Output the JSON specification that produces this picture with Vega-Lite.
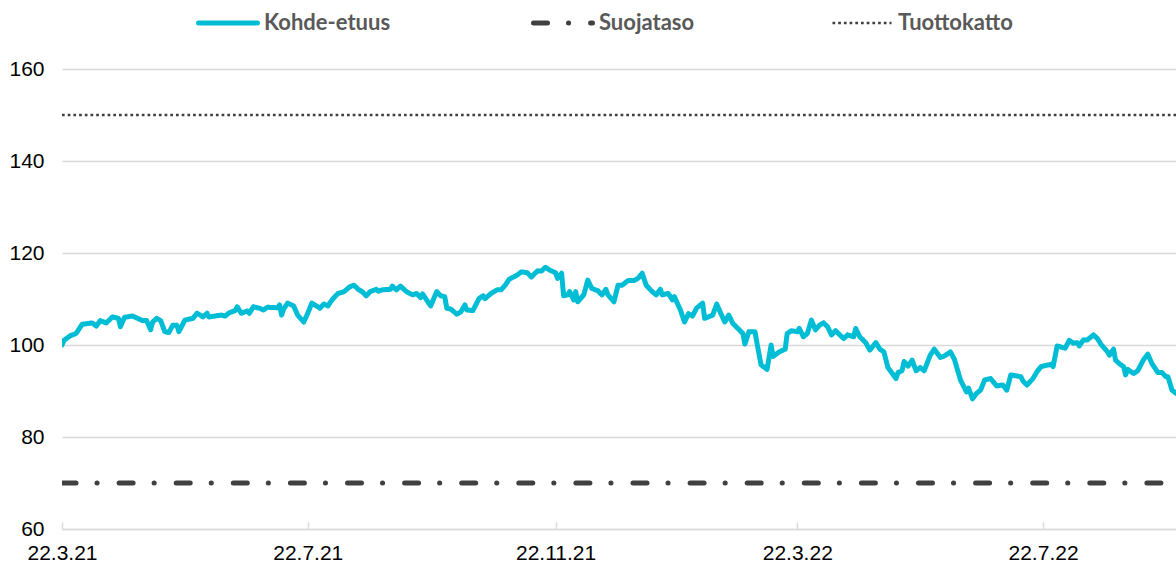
{
  "$schema": "https://vega.github.io/schema/vega-lite/v6.json",
  "width": 1114,
  "height": 460,
  "autosize": {"type": "none"},
  "padding": {"left": 62, "top": 69, "right": 0, "bottom": 34},
  "background": "white",
  "config": {"view": {"stroke": null}, "font": "Liberation Sans"},
  "datasets": {
    "kohde": [
      {"date": "2021-03-22", "value": 100.0, "series": "Kohde-etuus"},
      {"date": "2021-03-23", "value": 101.0, "series": "Kohde-etuus"},
      {"date": "2021-03-26", "value": 102.0, "series": "Kohde-etuus"},
      {"date": "2021-03-29", "value": 102.5, "series": "Kohde-etuus"},
      {"date": "2021-04-01", "value": 104.5, "series": "Kohde-etuus"},
      {"date": "2021-04-06", "value": 104.8, "series": "Kohde-etuus"},
      {"date": "2021-04-08", "value": 104.1, "series": "Kohde-etuus"},
      {"date": "2021-04-10", "value": 105.3, "series": "Kohde-etuus"},
      {"date": "2021-04-13", "value": 104.8, "series": "Kohde-etuus"},
      {"date": "2021-04-16", "value": 106.1, "series": "Kohde-etuus"},
      {"date": "2021-04-19", "value": 105.8, "series": "Kohde-etuus"},
      {"date": "2021-04-20", "value": 104.0, "series": "Kohde-etuus"},
      {"date": "2021-04-22", "value": 106.0, "series": "Kohde-etuus"},
      {"date": "2021-04-26", "value": 106.3, "series": "Kohde-etuus"},
      {"date": "2021-05-01", "value": 105.3, "series": "Kohde-etuus"},
      {"date": "2021-05-03", "value": 105.3, "series": "Kohde-etuus"},
      {"date": "2021-05-05", "value": 103.3, "series": "Kohde-etuus"},
      {"date": "2021-05-06", "value": 105.0, "series": "Kohde-etuus"},
      {"date": "2021-05-08", "value": 105.8, "series": "Kohde-etuus"},
      {"date": "2021-05-10", "value": 105.3, "series": "Kohde-etuus"},
      {"date": "2021-05-12", "value": 102.9, "series": "Kohde-etuus"},
      {"date": "2021-05-14", "value": 102.7, "series": "Kohde-etuus"},
      {"date": "2021-05-16", "value": 104.3, "series": "Kohde-etuus"},
      {"date": "2021-05-18", "value": 104.3, "series": "Kohde-etuus"},
      {"date": "2021-05-19", "value": 102.9, "series": "Kohde-etuus"},
      {"date": "2021-05-22", "value": 105.4, "series": "Kohde-etuus"},
      {"date": "2021-05-26", "value": 105.8, "series": "Kohde-etuus"},
      {"date": "2021-05-28", "value": 106.9, "series": "Kohde-etuus"},
      {"date": "2021-05-31", "value": 106.1, "series": "Kohde-etuus"},
      {"date": "2021-06-02", "value": 106.9, "series": "Kohde-etuus"},
      {"date": "2021-06-03", "value": 106.1, "series": "Kohde-etuus"},
      {"date": "2021-06-09", "value": 106.5, "series": "Kohde-etuus"},
      {"date": "2021-06-11", "value": 106.3, "series": "Kohde-etuus"},
      {"date": "2021-06-13", "value": 107.0, "series": "Kohde-etuus"},
      {"date": "2021-06-16", "value": 107.5, "series": "Kohde-etuus"},
      {"date": "2021-06-17", "value": 108.3, "series": "Kohde-etuus"},
      {"date": "2021-06-19", "value": 106.9, "series": "Kohde-etuus"},
      {"date": "2021-06-22", "value": 107.4, "series": "Kohde-etuus"},
      {"date": "2021-06-23", "value": 106.9, "series": "Kohde-etuus"},
      {"date": "2021-06-25", "value": 108.3, "series": "Kohde-etuus"},
      {"date": "2021-06-28", "value": 108.0, "series": "Kohde-etuus"},
      {"date": "2021-06-30", "value": 107.6, "series": "Kohde-etuus"},
      {"date": "2021-07-02", "value": 108.2, "series": "Kohde-etuus"},
      {"date": "2021-07-07", "value": 108.1, "series": "Kohde-etuus"},
      {"date": "2021-07-08", "value": 108.7, "series": "Kohde-etuus"},
      {"date": "2021-07-09", "value": 106.5, "series": "Kohde-etuus"},
      {"date": "2021-07-10", "value": 107.8, "series": "Kohde-etuus"},
      {"date": "2021-07-12", "value": 109.1, "series": "Kohde-etuus"},
      {"date": "2021-07-15", "value": 108.5, "series": "Kohde-etuus"},
      {"date": "2021-07-17", "value": 106.5, "series": "Kohde-etuus"},
      {"date": "2021-07-20", "value": 105.0, "series": "Kohde-etuus"},
      {"date": "2021-07-22", "value": 106.9, "series": "Kohde-etuus"},
      {"date": "2021-07-24", "value": 109.1, "series": "Kohde-etuus"},
      {"date": "2021-07-27", "value": 108.3, "series": "Kohde-etuus"},
      {"date": "2021-07-28", "value": 108.0, "series": "Kohde-etuus"},
      {"date": "2021-07-30", "value": 108.9, "series": "Kohde-etuus"},
      {"date": "2021-08-01", "value": 108.5, "series": "Kohde-etuus"},
      {"date": "2021-08-03", "value": 109.8, "series": "Kohde-etuus"},
      {"date": "2021-08-06", "value": 111.2, "series": "Kohde-etuus"},
      {"date": "2021-08-09", "value": 111.6, "series": "Kohde-etuus"},
      {"date": "2021-08-12", "value": 112.7, "series": "Kohde-etuus"},
      {"date": "2021-08-14", "value": 113.0, "series": "Kohde-etuus"},
      {"date": "2021-08-16", "value": 112.1, "series": "Kohde-etuus"},
      {"date": "2021-08-18", "value": 111.6, "series": "Kohde-etuus"},
      {"date": "2021-08-20", "value": 110.7, "series": "Kohde-etuus"},
      {"date": "2021-08-22", "value": 111.6, "series": "Kohde-etuus"},
      {"date": "2021-08-25", "value": 112.1, "series": "Kohde-etuus"},
      {"date": "2021-08-26", "value": 111.7, "series": "Kohde-etuus"},
      {"date": "2021-08-28", "value": 112.0, "series": "Kohde-etuus"},
      {"date": "2021-09-01", "value": 112.1, "series": "Kohde-etuus"},
      {"date": "2021-09-02", "value": 112.8, "series": "Kohde-etuus"},
      {"date": "2021-09-04", "value": 112.0, "series": "Kohde-etuus"},
      {"date": "2021-09-06", "value": 112.8, "series": "Kohde-etuus"},
      {"date": "2021-09-09", "value": 111.6, "series": "Kohde-etuus"},
      {"date": "2021-09-12", "value": 110.9, "series": "Kohde-etuus"},
      {"date": "2021-09-14", "value": 111.2, "series": "Kohde-etuus"},
      {"date": "2021-09-16", "value": 110.3, "series": "Kohde-etuus"},
      {"date": "2021-09-17", "value": 111.1, "series": "Kohde-etuus"},
      {"date": "2021-09-19", "value": 109.8, "series": "Kohde-etuus"},
      {"date": "2021-09-21", "value": 108.5, "series": "Kohde-etuus"},
      {"date": "2021-09-24", "value": 111.6, "series": "Kohde-etuus"},
      {"date": "2021-09-26", "value": 110.7, "series": "Kohde-etuus"},
      {"date": "2021-09-28", "value": 110.5, "series": "Kohde-etuus"},
      {"date": "2021-09-29", "value": 108.0, "series": "Kohde-etuus"},
      {"date": "2021-10-01", "value": 107.8, "series": "Kohde-etuus"},
      {"date": "2021-10-04", "value": 106.7, "series": "Kohde-etuus"},
      {"date": "2021-10-06", "value": 107.2, "series": "Kohde-etuus"},
      {"date": "2021-10-08", "value": 108.7, "series": "Kohde-etuus"},
      {"date": "2021-10-09", "value": 107.6, "series": "Kohde-etuus"},
      {"date": "2021-10-12", "value": 107.5, "series": "Kohde-etuus"},
      {"date": "2021-10-15", "value": 110.1, "series": "Kohde-etuus"},
      {"date": "2021-10-17", "value": 110.7, "series": "Kohde-etuus"},
      {"date": "2021-10-18", "value": 110.1, "series": "Kohde-etuus"},
      {"date": "2021-10-21", "value": 111.2, "series": "Kohde-etuus"},
      {"date": "2021-10-24", "value": 112.0, "series": "Kohde-etuus"},
      {"date": "2021-10-26", "value": 112.0, "series": "Kohde-etuus"},
      {"date": "2021-10-28", "value": 113.0, "series": "Kohde-etuus"},
      {"date": "2021-10-30", "value": 114.3, "series": "Kohde-etuus"},
      {"date": "2021-11-03", "value": 115.2, "series": "Kohde-etuus"},
      {"date": "2021-11-05", "value": 115.9, "series": "Kohde-etuus"},
      {"date": "2021-11-08", "value": 115.7, "series": "Kohde-etuus"},
      {"date": "2021-11-10", "value": 114.8, "series": "Kohde-etuus"},
      {"date": "2021-11-13", "value": 116.1, "series": "Kohde-etuus"},
      {"date": "2021-11-15", "value": 116.1, "series": "Kohde-etuus"},
      {"date": "2021-11-17", "value": 116.9, "series": "Kohde-etuus"},
      {"date": "2021-11-19", "value": 116.3, "series": "Kohde-etuus"},
      {"date": "2021-11-22", "value": 115.7, "series": "Kohde-etuus"},
      {"date": "2021-11-23", "value": 114.5, "series": "Kohde-etuus"},
      {"date": "2021-11-25", "value": 115.6, "series": "Kohde-etuus"},
      {"date": "2021-11-26", "value": 110.7, "series": "Kohde-etuus"},
      {"date": "2021-11-28", "value": 110.9, "series": "Kohde-etuus"},
      {"date": "2021-11-29", "value": 111.6, "series": "Kohde-etuus"},
      {"date": "2021-12-01", "value": 109.8, "series": "Kohde-etuus"},
      {"date": "2021-12-02", "value": 111.6, "series": "Kohde-etuus"},
      {"date": "2021-12-03", "value": 109.4, "series": "Kohde-etuus"},
      {"date": "2021-12-06", "value": 110.9, "series": "Kohde-etuus"},
      {"date": "2021-12-08", "value": 114.1, "series": "Kohde-etuus"},
      {"date": "2021-12-10", "value": 112.3, "series": "Kohde-etuus"},
      {"date": "2021-12-13", "value": 111.8, "series": "Kohde-etuus"},
      {"date": "2021-12-15", "value": 110.9, "series": "Kohde-etuus"},
      {"date": "2021-12-17", "value": 112.1, "series": "Kohde-etuus"},
      {"date": "2021-12-18", "value": 110.9, "series": "Kohde-etuus"},
      {"date": "2021-12-21", "value": 109.4, "series": "Kohde-etuus"},
      {"date": "2021-12-23", "value": 113.0, "series": "Kohde-etuus"},
      {"date": "2021-12-25", "value": 113.0, "series": "Kohde-etuus"},
      {"date": "2021-12-28", "value": 114.0, "series": "Kohde-etuus"},
      {"date": "2021-12-31", "value": 114.0, "series": "Kohde-etuus"},
      {"date": "2022-01-02", "value": 114.5, "series": "Kohde-etuus"},
      {"date": "2022-01-04", "value": 115.6, "series": "Kohde-etuus"},
      {"date": "2022-01-06", "value": 113.0, "series": "Kohde-etuus"},
      {"date": "2022-01-09", "value": 111.6, "series": "Kohde-etuus"},
      {"date": "2022-01-11", "value": 110.9, "series": "Kohde-etuus"},
      {"date": "2022-01-13", "value": 112.1, "series": "Kohde-etuus"},
      {"date": "2022-01-14", "value": 110.9, "series": "Kohde-etuus"},
      {"date": "2022-01-17", "value": 111.2, "series": "Kohde-etuus"},
      {"date": "2022-01-19", "value": 109.8, "series": "Kohde-etuus"},
      {"date": "2022-01-20", "value": 110.5, "series": "Kohde-etuus"},
      {"date": "2022-01-23", "value": 107.6, "series": "Kohde-etuus"},
      {"date": "2022-01-25", "value": 105.0, "series": "Kohde-etuus"},
      {"date": "2022-01-27", "value": 106.8, "series": "Kohde-etuus"},
      {"date": "2022-01-29", "value": 106.3, "series": "Kohde-etuus"},
      {"date": "2022-01-31", "value": 108.0, "series": "Kohde-etuus"},
      {"date": "2022-02-03", "value": 109.1, "series": "Kohde-etuus"},
      {"date": "2022-02-04", "value": 105.8, "series": "Kohde-etuus"},
      {"date": "2022-02-08", "value": 106.5, "series": "Kohde-etuus"},
      {"date": "2022-02-10", "value": 108.9, "series": "Kohde-etuus"},
      {"date": "2022-02-12", "value": 106.9, "series": "Kohde-etuus"},
      {"date": "2022-02-14", "value": 105.0, "series": "Kohde-etuus"},
      {"date": "2022-02-16", "value": 106.5, "series": "Kohde-etuus"},
      {"date": "2022-02-18", "value": 104.7, "series": "Kohde-etuus"},
      {"date": "2022-02-23", "value": 102.5, "series": "Kohde-etuus"},
      {"date": "2022-02-24", "value": 100.2, "series": "Kohde-etuus"},
      {"date": "2022-02-26", "value": 102.9, "series": "Kohde-etuus"},
      {"date": "2022-03-01", "value": 102.9, "series": "Kohde-etuus"},
      {"date": "2022-03-02", "value": 100.4, "series": "Kohde-etuus"},
      {"date": "2022-03-04", "value": 95.7, "series": "Kohde-etuus"},
      {"date": "2022-03-07", "value": 94.7, "series": "Kohde-etuus"},
      {"date": "2022-03-09", "value": 100.0, "series": "Kohde-etuus"},
      {"date": "2022-03-10", "value": 97.5, "series": "Kohde-etuus"},
      {"date": "2022-03-13", "value": 98.5, "series": "Kohde-etuus"},
      {"date": "2022-03-16", "value": 99.1, "series": "Kohde-etuus"},
      {"date": "2022-03-17", "value": 102.5, "series": "Kohde-etuus"},
      {"date": "2022-03-19", "value": 103.1, "series": "Kohde-etuus"},
      {"date": "2022-03-22", "value": 102.9, "series": "Kohde-etuus"},
      {"date": "2022-03-23", "value": 103.6, "series": "Kohde-etuus"},
      {"date": "2022-03-25", "value": 101.8, "series": "Kohde-etuus"},
      {"date": "2022-03-27", "value": 102.5, "series": "Kohde-etuus"},
      {"date": "2022-03-29", "value": 105.4, "series": "Kohde-etuus"},
      {"date": "2022-03-31", "value": 103.3, "series": "Kohde-etuus"},
      {"date": "2022-04-02", "value": 104.3, "series": "Kohde-etuus"},
      {"date": "2022-04-04", "value": 104.8, "series": "Kohde-etuus"},
      {"date": "2022-04-06", "value": 104.0, "series": "Kohde-etuus"},
      {"date": "2022-04-08", "value": 102.2, "series": "Kohde-etuus"},
      {"date": "2022-04-10", "value": 103.1, "series": "Kohde-etuus"},
      {"date": "2022-04-14", "value": 101.4, "series": "Kohde-etuus"},
      {"date": "2022-04-16", "value": 102.2, "series": "Kohde-etuus"},
      {"date": "2022-04-19", "value": 101.8, "series": "Kohde-etuus"},
      {"date": "2022-04-20", "value": 103.6, "series": "Kohde-etuus"},
      {"date": "2022-04-22", "value": 101.8, "series": "Kohde-etuus"},
      {"date": "2022-04-25", "value": 100.5, "series": "Kohde-etuus"},
      {"date": "2022-04-27", "value": 98.9, "series": "Kohde-etuus"},
      {"date": "2022-04-30", "value": 100.5, "series": "Kohde-etuus"},
      {"date": "2022-05-02", "value": 99.1, "series": "Kohde-etuus"},
      {"date": "2022-05-04", "value": 98.5, "series": "Kohde-etuus"},
      {"date": "2022-05-06", "value": 95.1, "series": "Kohde-etuus"},
      {"date": "2022-05-10", "value": 92.7, "series": "Kohde-etuus"},
      {"date": "2022-05-11", "value": 94.0, "series": "Kohde-etuus"},
      {"date": "2022-05-13", "value": 94.4, "series": "Kohde-etuus"},
      {"date": "2022-05-14", "value": 96.4, "series": "Kohde-etuus"},
      {"date": "2022-05-16", "value": 95.4, "series": "Kohde-etuus"},
      {"date": "2022-05-18", "value": 96.7, "series": "Kohde-etuus"},
      {"date": "2022-05-20", "value": 94.4, "series": "Kohde-etuus"},
      {"date": "2022-05-22", "value": 95.1, "series": "Kohde-etuus"},
      {"date": "2022-05-24", "value": 94.4, "series": "Kohde-etuus"},
      {"date": "2022-05-27", "value": 97.8, "series": "Kohde-etuus"},
      {"date": "2022-05-29", "value": 99.1, "series": "Kohde-etuus"},
      {"date": "2022-06-01", "value": 97.3, "series": "Kohde-etuus"},
      {"date": "2022-06-03", "value": 97.6, "series": "Kohde-etuus"},
      {"date": "2022-06-06", "value": 98.5, "series": "Kohde-etuus"},
      {"date": "2022-06-08", "value": 96.9, "series": "Kohde-etuus"},
      {"date": "2022-06-11", "value": 92.4, "series": "Kohde-etuus"},
      {"date": "2022-06-14", "value": 89.8, "series": "Kohde-etuus"},
      {"date": "2022-06-15", "value": 90.6, "series": "Kohde-etuus"},
      {"date": "2022-06-17", "value": 88.3, "series": "Kohde-etuus"},
      {"date": "2022-06-19", "value": 89.5, "series": "Kohde-etuus"},
      {"date": "2022-06-21", "value": 90.2, "series": "Kohde-etuus"},
      {"date": "2022-06-23", "value": 92.4, "series": "Kohde-etuus"},
      {"date": "2022-06-26", "value": 92.7, "series": "Kohde-etuus"},
      {"date": "2022-06-29", "value": 91.1, "series": "Kohde-etuus"},
      {"date": "2022-07-02", "value": 91.3, "series": "Kohde-etuus"},
      {"date": "2022-07-04", "value": 90.2, "series": "Kohde-etuus"},
      {"date": "2022-07-06", "value": 93.5, "series": "Kohde-etuus"},
      {"date": "2022-07-11", "value": 93.1, "series": "Kohde-etuus"},
      {"date": "2022-07-12", "value": 92.2, "series": "Kohde-etuus"},
      {"date": "2022-07-14", "value": 91.3, "series": "Kohde-etuus"},
      {"date": "2022-07-17", "value": 92.7, "series": "Kohde-etuus"},
      {"date": "2022-07-19", "value": 94.2, "series": "Kohde-etuus"},
      {"date": "2022-07-21", "value": 95.3, "series": "Kohde-etuus"},
      {"date": "2022-07-26", "value": 95.8, "series": "Kohde-etuus"},
      {"date": "2022-07-27", "value": 95.3, "series": "Kohde-etuus"},
      {"date": "2022-07-29", "value": 99.8, "series": "Kohde-etuus"},
      {"date": "2022-08-02", "value": 99.3, "series": "Kohde-etuus"},
      {"date": "2022-08-04", "value": 101.0, "series": "Kohde-etuus"},
      {"date": "2022-08-06", "value": 100.4, "series": "Kohde-etuus"},
      {"date": "2022-08-08", "value": 100.5, "series": "Kohde-etuus"},
      {"date": "2022-08-09", "value": 99.8, "series": "Kohde-etuus"},
      {"date": "2022-08-11", "value": 101.1, "series": "Kohde-etuus"},
      {"date": "2022-08-13", "value": 101.1, "series": "Kohde-etuus"},
      {"date": "2022-08-16", "value": 102.2, "series": "Kohde-etuus"},
      {"date": "2022-08-18", "value": 101.4, "series": "Kohde-etuus"},
      {"date": "2022-08-20", "value": 100.0, "series": "Kohde-etuus"},
      {"date": "2022-08-23", "value": 98.5, "series": "Kohde-etuus"},
      {"date": "2022-08-24", "value": 97.8, "series": "Kohde-etuus"},
      {"date": "2022-08-26", "value": 99.1, "series": "Kohde-etuus"},
      {"date": "2022-08-27", "value": 96.7, "series": "Kohde-etuus"},
      {"date": "2022-08-29", "value": 95.9, "series": "Kohde-etuus"},
      {"date": "2022-08-31", "value": 95.3, "series": "Kohde-etuus"},
      {"date": "2022-09-01", "value": 93.5, "series": "Kohde-etuus"},
      {"date": "2022-09-02", "value": 94.7, "series": "Kohde-etuus"},
      {"date": "2022-09-05", "value": 93.8, "series": "Kohde-etuus"},
      {"date": "2022-09-07", "value": 94.4, "series": "Kohde-etuus"},
      {"date": "2022-09-10", "value": 96.9, "series": "Kohde-etuus"},
      {"date": "2022-09-12", "value": 98.0, "series": "Kohde-etuus"},
      {"date": "2022-09-14", "value": 96.0, "series": "Kohde-etuus"},
      {"date": "2022-09-17", "value": 94.0, "series": "Kohde-etuus"},
      {"date": "2022-09-19", "value": 94.0, "series": "Kohde-etuus"},
      {"date": "2022-09-21", "value": 93.1, "series": "Kohde-etuus"},
      {"date": "2022-09-22", "value": 93.1, "series": "Kohde-etuus"},
      {"date": "2022-09-24", "value": 90.2, "series": "Kohde-etuus"},
      {"date": "2022-09-26", "value": 89.5, "series": "Kohde-etuus"}
    ],
    "suoja": [
      {"date": "2021-03-22", "value": 70, "series": "Suojataso"},
      {"date": "2022-09-26", "value": 70, "series": "Suojataso"}
    ],
    "tuotto": [
      {"date": "2021-03-22", "value": 150, "series": "Tuottokatto"},
      {"date": "2022-09-26", "value": 150, "series": "Tuottokatto"}
    ]
  },
  "encoding": {
    "x": {
      "field": "date",
      "type": "temporal",
      "title": null,
      "scale": {
        "type": "utc",
        "domain": [
          {"year": 2021, "month": 3, "date": 22, "utc": true},
          {"year": 2022, "month": 9, "date": 26, "utc": true}
        ]
      },
      "axis": {
        "values": [
          {"year": 2021, "month": 3, "date": 22, "utc": true},
          {"year": 2021, "month": 7, "date": 22, "utc": true},
          {"year": 2021, "month": 11, "date": 22, "utc": true},
          {"year": 2022, "month": 3, "date": 22, "utc": true},
          {"year": 2022, "month": 7, "date": 22, "utc": true}
        ],
        "format": "%-d.%-m.%y",
        "grid": false,
        "domainColor": "#d9d9d9",
        "domainWidth": 1.5,
        "tickColor": "#d9d9d9",
        "tickWidth": 1.5,
        "tickSize": -7,
        "labelPadding": 20,
        "labelFont": "Liberation Sans",
        "labelFontSize": 21,
        "labelColor": "#000000",
        "labelFlush": false,
        "labelOverlap": false,
        "labelBound": false
      }
    },
    "y": {
      "field": "value",
      "type": "quantitative",
      "title": null,
      "scale": {"domain": [60, 160], "nice": false, "zero": false},
      "axis": {
        "values": [60, 80, 100, 120, 140, 160],
        "domain": false,
        "ticks": false,
        "grid": true,
        "gridColor": "#d9d9d9",
        "gridWidth": 1.5,
        "labelPadding": 18,
        "labelFont": "Liberation Sans",
        "labelFontSize": 21,
        "labelColor": "#000000"
      }
    },
    "color": {
      "field": "series",
      "type": "nominal",
      "scale": {
        "domain": ["Kohde-etuus", "Suojataso", "Tuottokatto"],
        "range": ["#00BDD6", "#404040", "#404040"]
      },
      "legend": {
        "title": null,
        "orient": "none",
        "legendX": 134,
        "legendY": -78,
        "direction": "horizontal",
        "symbolType": "stroke",
        "symbolSize": 3481,
        "symbolStrokeWidth": 5,
        "labelFont": "Lato",
        "labelFontSize": 22,
        "labelFontWeight": "bold",
        "labelColor": "#595959",
        "labelOffset": 4,
        "labelLimit": 300,
        "columnPadding": 132,
        "padding": 0,
        "encode": {
          "symbols": {
            "update": {
              "strokeWidth": {"signal": "(datum.value === 'Tuottokatto' ? 2.7 : 5)"},
              "strokeCap": {"signal": "(datum.value === 'Tuottokatto' ? 'butt' : 'round')"}
            }
          }
        }
      }
    },
    "strokeDash": {
      "field": "series",
      "type": "nominal",
      "scale": {
        "domain": ["Kohde-etuus", "Suojataso", "Tuottokatto"],
        "range": [[1, 0], [14, 21, 0.1, 22], [2.7, 3]]
      },
      "legend": {
        "title": null,
        "orient": "none",
        "legendX": 134,
        "legendY": -78,
        "direction": "horizontal",
        "symbolType": "stroke",
        "symbolSize": 3481,
        "symbolStrokeWidth": 5,
        "labelFont": "Lato",
        "labelFontSize": 22,
        "labelFontWeight": "bold",
        "labelColor": "#595959",
        "labelOffset": 4,
        "labelLimit": 300,
        "columnPadding": 132,
        "padding": 0,
        "encode": {
          "symbols": {
            "update": {
              "strokeWidth": {"signal": "(datum.value === 'Tuottokatto' ? 2.7 : 5)"},
              "strokeCap": {"signal": "(datum.value === 'Tuottokatto' ? 'butt' : 'round')"}
            }
          }
        }
      }
    }
  },
  "layer": [
    {
      "data": {"name": "suoja"},
      "mark": {"type": "line", "strokeWidth": 5, "strokeCap": "round", "clip": true}
    },
    {
      "data": {"name": "tuotto"},
      "mark": {"type": "line", "strokeWidth": 2.7, "strokeCap": "butt", "clip": true}
    },
    {
      "data": {"name": "kohde"},
      "mark": {"type": "line", "strokeWidth": 5, "strokeJoin": "round", "strokeCap": "round", "clip": true}
    }
  ]
}
